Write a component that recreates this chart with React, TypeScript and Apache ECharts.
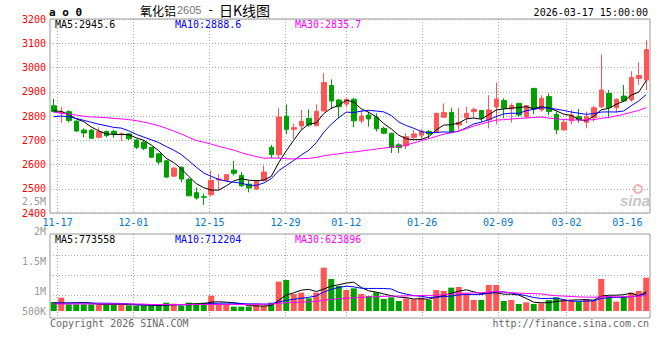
import React, { useEffect, useRef } from 'react';
import * as echarts from 'echarts';

// ---- data ----
const dates = [
  '11-14', '11-17', '11-18', '11-19', '11-20', '11-21', '11-24', '11-25', '11-26', '11-27', '11-28',
  '12-01', '12-02', '12-03', '12-04', '12-05', '12-08', '12-09', '12-10', '12-11', '12-12',
  '12-15', '12-16', '12-17', '12-18', '12-19', '12-22', '12-23', '12-24', '12-25', '12-26',
  '12-29', '12-30', '12-31', '01-05', '01-06', '01-07', '01-08', '01-09',
  '01-12', '01-13', '01-14', '01-15', '01-16', '01-19', '01-20', '01-21', '01-22', '01-23',
  '01-26', '01-27', '01-28', '01-29', '01-30', '02-02', '02-03', '02-04', '02-05', '02-06',
  '02-09', '02-10', '02-11', '02-12', '02-13', '02-24', '02-25', '02-26', '02-27',
  '03-02', '03-03', '03-04', '03-05', '03-06', '03-09', '03-10', '03-11', '03-12', '03-13',
  '03-16', '03-17',
];
const gridDates = ['11-17', '12-01', '12-15', '12-29', '01-12', '01-26', '02-09', '03-02'];
const labelDates = ['11-17', '12-01', '12-15', '12-29', '01-12', '01-26', '02-09', '03-02', '03-16'];

const opens = [
  2842, 2811, 2818, 2779, 2742, 2742, 2712, 2736, 2737, 2725,
  2726, 2701, 2692, 2671, 2644, 2615, 2552, 2589, 2538, 2484,
  2467, 2475, 2536, 2534, 2577, 2555, 2519, 2499, 2534, 2671,
  2640, 2799, 2745, 2759, 2790, 2760, 2821, 2926, 2866, 2849,
  2869, 2780, 2804, 2795, 2749, 2729, 2681, 2677, 2712, 2721,
  2736, 2736, 2795, 2815, 2763, 2793, 2818, 2823, 2784, 2837,
  2864, 2829, 2852, 2796, 2914, 2825, 2880, 2807, 2743, 2780,
  2797, 2774, 2793, 2838, 2893, 2834, 2882, 2866, 2955, 2948,
];
const closes = [
  2818, 2816.5, 2781, 2738, 2730, 2708, 2736, 2719, 2727, 2727,
  2706, 2671, 2667, 2630, 2610, 2548, 2585, 2540, 2471, 2462,
  2465, 2534, 2540, 2558, 2564, 2512, 2503, 2530, 2569, 2641,
  2796, 2745, 2752, 2778, 2763, 2819, 2938, 2862, 2838, 2869,
  2780, 2800, 2788, 2747, 2729, 2670, 2670, 2715, 2726, 2736,
  2726, 2811, 2814, 2732, 2773, 2811, 2827, 2791, 2825, 2870,
  2832, 2843, 2804, 2843, 2829, 2873, 2818, 2743, 2774, 2804,
  2785, 2797, 2834, 2907, 2834, 2869, 2862, 2959, 2967, 3074,
];
const lows = [
  2815, 2772, 2773, 2736, 2712, 2706, 2708, 2712, 2711, 2697,
  2701, 2663, 2659, 2626, 2599, 2544, 2549, 2527, 2469, 2455,
  2434, 2469, 2492, 2530, 2555, 2507, 2485, 2496, 2530, 2626,
  2626, 2725, 2706, 2743, 2756, 2758, 2818, 2829, 2791, 2835,
  2754, 2770, 2756, 2736, 2727, 2647, 2647, 2664, 2701, 2701,
  2708, 2729, 2791, 2729, 2743, 2770, 2791, 2777, 2749, 2766,
  2791, 2773, 2797, 2791, 2807, 2818, 2804, 2725, 2738, 2766,
  2773, 2749, 2777, 2832, 2791, 2815, 2860, 2859, 2928, 2907,
];
const highs = [
  2870, 2838, 2823, 2781, 2749, 2745, 2753, 2740, 2744, 2732,
  2729, 2706, 2701, 2672, 2647, 2619, 2590, 2591, 2544, 2506,
  2480, 2575, 2560, 2560, 2615, 2569, 2534, 2532, 2596, 2681,
  2832, 2848, 2769, 2825, 2827, 2848, 2977, 2951, 2870, 2872,
  2875, 2825, 2818, 2811, 2756, 2731, 2688, 2729, 2743, 2745,
  2743, 2814, 2852, 2834, 2834, 2838, 2834, 2825, 2886, 2938,
  2873, 2852, 2855, 2845, 2914, 2886, 2893, 2818, 2784, 2825,
  2829, 2818, 2843, 3054, 2907, 2873, 2928, 2985, 3021, 3112,
];
const volumes = [
  365000, 541000, 270000, 270000, 270000, 270000, 265000, 270000, 270000, 265000,
  230000, 216000, 216000, 216000, 216000, 338000, 297000, 216000, 338000, 297000,
  338000, 622000, 270000, 270000, 176000, 176000, 176000, 243000, 216000, 338000,
  1190000, 1258000, 690000, 744000, 514000, 744000, 1758000, 1298000, 1014000, 852000,
  920000, 690000, 609000, 757000, 487000, 554000, 406000, 514000, 473000, 541000,
  446000, 852000, 811000, 947000, 974000, 717000, 446000, 446000, 1055000, 1055000,
  406000, 446000, 284000, 352000, 284000, 311000, 446000, 554000, 473000, 419000,
  379000, 473000, 446000, 1298000, 609000, 379000, 581000, 744000, 811000, 1352000,
];

// moving-average values before enough history is in view
const ma5Head = [2821, 2819, 2806, 2788];
const ma10Head = [2797, 2800, 2797, 2790, 2782, 2774, 2766, 2760, 2753];
const ma30Head = [
  2816, 2812, 2807, 2804, 2799, 2796, 2795, 2793, 2790, 2788,
  2785, 2781, 2775, 2768, 2760, 2749, 2738, 2726, 2712, 2699,
  2692, 2684, 2675, 2667, 2659, 2649, 2640, 2633, 2626,
];
const vma5Head = [325000, 325000, 325000, 335000];
const vma10Head = [325000, 325000, 325000, 325000, 325000, 320000, 318000, 314000, 310000];
const vma30Head = [
  285000, 285000, 285000, 285000, 285000, 285000, 285000, 285000, 285000, 285000,
  285000, 285000, 280000, 262000, 262000, 262000, 262000, 262000, 262000, 262000,
  262000, 262000, 262000, 262000, 262000, 262000, 265000, 270000, 275000,
];

const priceMaText = ['MA5:2945.6', 'MA10:2888.6', 'MA30:2835.7'];
const volMaText = ['MA5:773558', 'MA10:712204', 'MA30:623896'];
const volLabelValues = [666667, 1000000, 1500000, 2000000, 2500000];
const volLabelTexts = ['500K', '1M', '1.5M', '2M', '2.5M'];

function movingAvg(vals: number[], n: number, head: number[]): number[] {
  return vals.map((_, i) => {
    if (i < n - 1) return head[i];
    let s = 0;
    for (let k = i - n + 1; k <= i; k++) s += vals[k];
    return Math.round((s / n) * 10) / 10;
  });
}

const RED = '#ff5555';
const GREEN = '#00a000';
const MONO = '"DejaVu Sans Mono", "Liberation Mono", monospace';
const GRIDLINE = { show: true, lineStyle: { color: '#aaaaaa', type: [1, 2] as any, width: 1 } };

export default function App() {
  const ref = useRef<HTMLDivElement>(null);
  useEffect(() => {
    if (!ref.current) return;
    const chart = echarts.init(ref.current, undefined, { renderer: 'svg' });
    const gridIdx = gridDates.map((d) => dates.indexOf(d));
    const labelIdx = labelDates.map((d) => dates.indexOf(d));
    const last = dates.length - 1;

    const candles = opens.map((o, i) => [o, closes[i], lows[i], highs[i]]);
    const volData = volumes.map((v, i) => ({
      value: v,
      itemStyle: { color: closes[i] >= opens[i] ? RED : GREEN },
    }));

    const hiddenCat = (gridIndex: number) => ({
      type: 'category',
      gridIndex,
      position: 'bottom',
      data: dates,
      boundaryGap: true,
      axisLine: { show: false },
      axisTick: { show: false },
      axisLabel: { show: false },
      splitLine: { show: false },
    });
    const gridValueX = (gridIndex: number, labels: boolean) => ({
      type: 'value',
      gridIndex,
      position: 'bottom',
      min: 0,
      max: last,
      axisLine: { show: false },
      axisTick: { show: false, customValues: gridIdx },
      axisLabel: labels
        ? {
            show: true,
            customValues: labelIdx,
            formatter: (v: number) => dates[Math.round(v)],
            color: '#0077cc',
            fontFamily: MONO,
            fontSize: 10,
            margin: 4,
            alignMaxLabel: 'right',
          }
        : { show: false },
      splitLine: GRIDLINE,
    });

    const lineS = (name: string, data: number[], color: string, xi: number, yi: number) => ({
      name,
      type: 'line',
      xAxisIndex: xi,
      yAxisIndex: yi,
      data,
      symbol: 'none',
      smooth: false,
      lineStyle: { color, width: 1 },
      z: 5,
      silent: true,
    });

    const txt = (text: string, x: number, y: number, fill: string, font: string, align = 'left') => ({
      type: 'text',
      x,
      y,
      silent: true,
      style: { text, fill, font, align, verticalAlign: 'middle', textAlign: align, textVerticalAlign: 'middle' },
    });

    const option: any = {
      animation: false,
      backgroundColor: '#ffffff',
      grid: [
        { left: 50, top: 19, width: 600, height: 194, show: true, borderColor: '#999999', borderWidth: 1 },
        { left: 50, top: 234, width: 600, height: 84, show: true, borderColor: '#999999', borderWidth: 1 },
        { left: 50, top: 201, width: 600, height: 120, show: false },
      ],
      xAxis: [
        hiddenCat(0),
        gridValueX(0, true),
        hiddenCat(1),
        gridValueX(1, false),
        { type: 'value', gridIndex: 2, show: false },
      ],
      yAxis: [
        {
          type: 'value',
          gridIndex: 0,
          position: 'left',
          min: 2400,
          max: 3200,
          interval: 100,
          axisLine: { show: false },
          axisTick: { show: false },
          axisLabel: {
            color: '#ff0000',
            fontFamily: MONO,
            fontSize: 10,
            margin: 4,
            formatter: (v: number) => String(v),
          },
          splitLine: GRIDLINE,
        },
        {
          type: 'value',
          gridIndex: 1,
          position: 'left',
          min: -284000,
          max: 3124000,
          axisLine: { show: false },
          axisTick: { show: false, customValues: [649000, 1460000, 2272000] },
          axisLabel: { show: false },
          splitLine: GRIDLINE,
        },
        {
          type: 'value',
          gridIndex: 2,
          position: 'left',
          min: 500000,
          max: 2500000,
          axisLine: { show: false },
          axisTick: { show: false },
          splitLine: { show: false },
          axisLabel: {
            customValues: volLabelValues,
            formatter: (v: number) => {
              const k = volLabelValues.findIndex((x) => Math.abs(x - v) < 1000);
              return k >= 0 ? volLabelTexts[k] : '';
            },
            color: '#999999',
            fontFamily: MONO,
            fontSize: 10,
            margin: 4,
          },
        },
      ],
      series: [
        {
          name: 'K',
          type: 'candlestick',
          xAxisIndex: 0,
          yAxisIndex: 0,
          data: candles,
          barWidth: 5,
          itemStyle: { color: RED, color0: GREEN, borderColor: RED, borderColor0: GREEN, borderWidth: 1 },
          z: 3,
          silent: true,
        },
        lineS('MA5', movingAvg(closes, 5, ma5Head), '#000000', 0, 0),
        lineS('MA10', movingAvg(closes, 10, ma10Head), '#0000ff', 0, 0),
        lineS('MA30', movingAvg(closes, 30, ma30Head), '#ff00ff', 0, 0),
        {
          name: 'VOL',
          type: 'bar',
          xAxisIndex: 2,
          yAxisIndex: 1,
          data: volData,
          barWidth: 6,
          z: 3,
          silent: true,
        },
        lineS('VMA5', movingAvg(volumes, 5, vma5Head), '#000000', 2, 1),
        lineS('VMA10', movingAvg(volumes, 10, vma10Head), '#0000ff', 2, 1),
        lineS('VMA30', movingAvg(volumes, 30, vma30Head), '#ff00ff', 2, 1),
      ],
      graphic: {
        elements: [
          txt('a o 0', 49, 12, '#000000', `bold 11px ${MONO}`),
          txt('氧化铝', 140, 10, '#000000', '12px "Noto Sans CJK SC"'),
          txt('2605', 177, 10, '#777777', '11px "Liberation Sans", Arial'),
          txt('-', 207, 10, '#000000', `12px ${MONO}`),
          txt('日K线图', 219, 10, '#000000', '14px "Noto Sans CJK SC"'),
          txt('2026-03-17 15:00:00', 648, 12, '#000000', `10px ${MONO}`, 'right'),
          txt(priceMaText[0], 55, 24, '#000000', `10px ${MONO}`),
          txt(priceMaText[1], 175, 24, '#0000ff', `10px ${MONO}`),
          txt(priceMaText[2], 295, 24, '#ff00ff', `10px ${MONO}`),
          txt(volMaText[0], 55, 239, '#000000', `10px ${MONO}`),
          txt(volMaText[1], 175, 239, '#0000ff', `10px ${MONO}`),
          txt(volMaText[2], 295, 239, '#ff00ff', `10px ${MONO}`),
          txt('Copyright 2026 SINA.COM', 50, 323, '#666666', `10px ${MONO}`),
          txt('http://finance.sina.com.cn', 649, 323, '#666666', `10px ${MONO}`, 'right'),
          {
            type: 'circle',
            silent: true,
            shape: { cx: 638, cy: 189, r: 4 },
            style: { fill: 'none', stroke: '#f2b0b0', lineWidth: 2 },
          },
          txt('sina', 620, 200, '#c4c4c4', 'italic bold 15px "Liberation Sans", Arial'),
        ],
      },
    };
    chart.setOption(option);
    return () => chart.dispose();
  }, []);
  return (
    <div
      ref={ref}
      style={{ position: 'fixed', left: 0, top: 0, width: 660, height: 360, background: '#fff' }}
    />
  );
}
